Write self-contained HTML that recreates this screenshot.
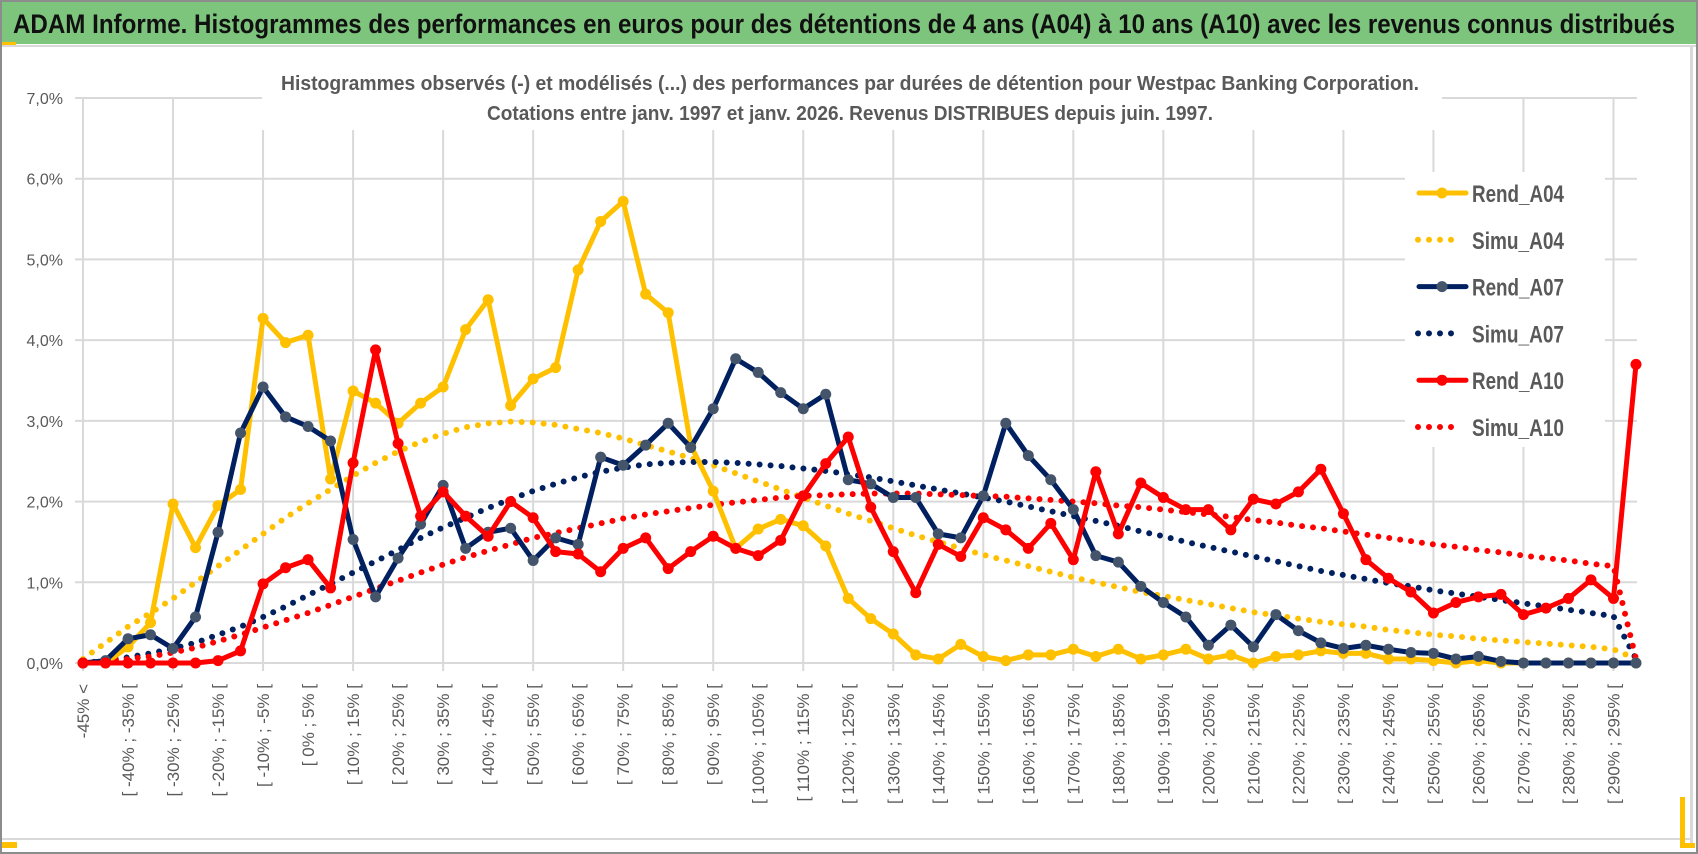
<!DOCTYPE html>
<html><head><meta charset="utf-8"><style>
html,body{margin:0;padding:0;background:#fff;}
svg{display:block;font-family:"Liberation Sans",sans-serif;}
</style></head><body>
<svg id="c" width="1698" height="854" viewBox="0 0 1698 854">
<rect x="0" y="0" width="1698" height="854" fill="#fff"/>
<rect x="1" y="1" width="1696" height="852" fill="none" stroke="#8c8c8c" stroke-width="2"/>
<rect x="2" y="2" width="1694" height="42" fill="#7dc57c"/>
<rect x="2" y="42" width="14" height="3" fill="#ffc000"/>
<text x="13" y="33" font-size="27" font-weight="bold" fill="#111" textLength="1662" lengthAdjust="spacingAndGlyphs">ADAM Informe. Histogrammes des performances en euros pour des détentions de 4 ans (A04) à 10 ans (A10) avec les revenus connus distribués</text>
<line x1="2" y1="46" x2="1696" y2="46" stroke="#d9d9d9" stroke-width="2"/>
<rect x="1690" y="46" width="3" height="800" fill="#d9d9d9"/>
<line x1="2" y1="839" x2="1690" y2="839" stroke="#d9d9d9" stroke-width="2"/>
<rect x="2" y="842" width="15" height="6" fill="#ffc000"/>
<rect x="1680" y="797" width="5" height="51" fill="#ffc000"/>
<rect x="1680" y="843" width="15" height="5" fill="#ffc000"/>
<g id="grid"></g>
<g id="axes"></g>
<rect x="262" y="66" width="1180" height="64" fill="#fff"/>
<text x="850" y="90" font-size="20" font-weight="bold" fill="#595959" text-anchor="middle" textLength="1138" lengthAdjust="spacingAndGlyphs">Histogrammes observés (-) et modélisés (...) des performances par durées de détention pour Westpac Banking Corporation.</text>
<text x="850" y="120" font-size="20" font-weight="bold" fill="#595959" text-anchor="middle" textLength="726" lengthAdjust="spacingAndGlyphs">Cotations entre janv. 1997 et janv. 2026. Revenus DISTRIBUES depuis juin. 1997.</text>
<g id="series"></g>
<g id="legend"></g>
</svg>
<script>
const categories = (function(){const a=["-45% <"];for(let k=1;k<70;k++){const lo=-50+5*k;a.push("[ "+lo+"% ; "+(lo+5)+"% [");}return a;})();
const yTicks = [0,1,2,3,4,5,6,7];
const yTickLabels = ["0,0%","1,0%","2,0%","3,0%","4,0%","5,0%","6,0%","7,0%"];
const seriesNames = ["Rend_A04","Simu_A04","Rend_A07","Simu_A07","Rend_A10","Simu_A10"];
const rendA04 = [0,0,0.2,0.5,1.97,1.43,1.95,2.15,4.27,3.97,4.06,2.28,3.37,3.22,2.97,3.22,3.42,4.13,4.5,3.19,3.52,3.66,4.87,5.47,5.72,4.57,4.34,2.7,2.13,1.42,1.66,1.78,1.7,1.45,0.8,0.55,0.36,0.1,0.05,0.23,0.08,0.03,0.1,0.1,0.17,0.08,0.17,0.05,0.1,0.17,0.05,0.1,0,0.08,0.1,0.15,0.12,0.12,0.05,0.05,0.03,0,0.03,0,0,0,0,0,0,0];
const simuA04 = [0.05,0.25,0.45,0.62,0.8,1.0,1.2,1.4,1.6,1.8,1.98,2.15,2.32,2.48,2.62,2.74,2.84,2.92,2.97,2.99,2.98,2.95,2.9,2.85,2.78,2.7,2.62,2.54,2.45,2.35,2.25,2.15,2.05,1.95,1.85,1.76,1.67,1.58,1.5,1.42,1.34,1.27,1.2,1.13,1.06,1.0,0.94,0.88,0.83,0.78,0.73,0.68,0.63,0.59,0.55,0.51,0.48,0.45,0.41,0.38,0.35,0.33,0.3,0.28,0.26,0.24,0.22,0.2,0.17,0.05];
const rendA07 = [0,0.03,0.3,0.35,0.18,0.57,1.62,2.85,3.42,3.05,2.93,2.75,1.53,0.82,1.3,1.72,2.2,1.42,1.62,1.67,1.27,1.55,1.47,2.55,2.45,2.7,2.97,2.67,3.15,3.77,3.6,3.35,3.15,3.33,2.27,2.22,2.05,2.05,1.6,1.55,2.07,2.97,2.57,2.27,1.9,1.33,1.25,0.95,0.75,0.57,0.22,0.47,0.2,0.6,0.4,0.25,0.18,0.22,0.17,0.13,0.12,0.05,0.08,0.02,0,0,0,0,0,0];
const simuA07 = [0.0,0.03,0.07,0.12,0.18,0.25,0.35,0.45,0.57,0.7,0.84,0.98,1.12,1.26,1.4,1.55,1.68,1.8,1.92,2.03,2.13,2.22,2.3,2.37,2.42,2.46,2.48,2.49,2.49,2.48,2.46,2.44,2.41,2.38,2.34,2.3,2.25,2.2,2.15,2.1,2.05,2.0,1.94,1.88,1.82,1.76,1.7,1.63,1.57,1.5,1.44,1.38,1.32,1.26,1.2,1.14,1.09,1.04,0.99,0.95,0.9,0.86,0.82,0.78,0.74,0.7,0.66,0.62,0.58,0.05];
const rendA10 = [0,0,0,0,0,0,0.03,0.15,0.98,1.18,1.28,0.93,2.48,3.88,2.72,1.82,2.12,1.82,1.57,2.0,1.8,1.38,1.35,1.13,1.42,1.55,1.17,1.38,1.57,1.42,1.33,1.52,2.07,2.47,2.8,1.93,1.38,0.87,1.47,1.32,1.8,1.65,1.42,1.73,1.28,2.37,1.6,2.23,2.05,1.9,1.9,1.65,2.03,1.97,2.12,2.4,1.85,1.28,1.05,0.88,0.62,0.75,0.82,0.85,0.6,0.68,0.8,1.03,0.8,3.7];
const simuA10 = [0.0,0.02,0.05,0.08,0.13,0.19,0.27,0.35,0.44,0.53,0.62,0.72,0.82,0.92,1.02,1.12,1.22,1.31,1.39,1.47,1.55,1.61,1.67,1.73,1.79,1.84,1.88,1.92,1.96,1.99,2.02,2.05,2.07,2.08,2.09,2.1,2.1,2.1,2.09,2.08,2.07,2.06,2.04,2.02,2.0,1.98,1.95,1.93,1.9,1.87,1.84,1.81,1.77,1.74,1.7,1.67,1.63,1.59,1.55,1.51,1.47,1.44,1.4,1.37,1.33,1.3,1.27,1.23,1.2,0.05];

const NS="http://www.w3.org/2000/svg";
const X0=83, X1=1636, Y0=663, Y7=98, PL=75, PR=1637;
function xs(i){return X0+(X1-X0)*i/(categories.length-1);}
function ys(v){return Y0-(Y0-Y7)*v/7;}
function mk(tag,attrs,parent){const e=document.createElementNS(NS,tag);for(const k in attrs)e.setAttribute(k,attrs[k]);parent.appendChild(e);return e;}
const grid=document.getElementById('grid'), axes=document.getElementById('axes'), ser=document.getElementById('series'), leg=document.getElementById('legend');
yTicks.forEach((t,j)=>{
  const l=mk('line',{x1:PL,x2:PR,y1:ys(t),y2:ys(t),stroke:'#d9d9d9','stroke-width':2},grid);
  
  
  const tx=mk('text',{x:63,y:ys(t)+6,'font-size':16,fill:'#595959','text-anchor':'end'},axes);
  tx.textContent=yTickLabels[j];
  
  
});
for(let i=0;i<categories.length;i+=4){
  const l=mk('line',{x1:xs(i),x2:xs(i),y1:Y7,y2:Y0+8,stroke:'#d9d9d9','stroke-width':2},grid);
  
  
}
categories.forEach((c,i)=>{
  if(i%2) return;
  const x=xs(i)+6, y=684;
  const tx=mk('text',{x:x,y:y,'font-size':17,fill:'#595959','text-anchor':'end',transform:`rotate(-90 ${x} ${y})`},axes);
  tx.textContent=c;
  
  
});
function dotted(vals,color,name){
  const p=mk('polyline',{points:vals.map((v,i)=>xs(i)+','+ys(v)).join(' '),fill:'none',stroke:color,'stroke-width':6,'stroke-linecap':'round','stroke-dasharray':'0 11'},ser);
  
  
}
function solid(vals,color,mcol,name){
  const g=mk('g',{},ser);
  
  
  mk('polyline',{points:vals.map((v,i)=>xs(i)+','+ys(v)).join(' '),fill:'none',stroke:color,'stroke-width':5,'stroke-linejoin':'round'},g);
  vals.forEach((v,i)=>{
    const c=mk('circle',{cx:xs(i),cy:ys(v),r:5.5,fill:mcol},g);
    
    
  });
}
dotted(simuA04,'#ffc000','simu-a04-line');
dotted(simuA07,'#002060','simu-a07-line');
dotted(simuA10,'#ff0000','simu-a10-line');
solid(rendA04,'#ffc000','#ffc000','rend-a04-line');
solid(rendA07,'#002060','#44546a','rend-a07-line');
solid(rendA10,'#ff0000','#ff0000','rend-a10-line');
// legend
mk('rect',{x:1405,y:172,width:200,height:275,fill:'#fff'},leg);
const legStyles=[['#ffc000','solid','#ffc000'],['#ffc000','dot'],['#002060','solid','#44546a'],['#002060','dot'],['#ff0000','solid','#ff0000'],['#ff0000','dot']];
seriesNames.forEach((n,j)=>{
  const y=193+j*46.8;
  const g=mk('g',{},leg);
  
  
  const st=legStyles[j];
  if(st[1]==='solid'){
    mk('line',{x1:1419,x2:1466,y1:y,y2:y,stroke:st[0],'stroke-width':5,'stroke-linecap':'round'},g);
    mk('circle',{cx:1442,cy:y,r:5.5,fill:st[2]},g);
  } else {
    mk('line',{x1:1418,x2:1460,y1:y,y2:y,stroke:st[0],'stroke-width':6,'stroke-linecap':'round','stroke-dasharray':'0 11'},g);
  }
  const t=mk('text',{x:1472,y:y+9,'font-size':24,'font-weight':'bold',fill:'#595959',textLength:92,lengthAdjust:'spacingAndGlyphs'},g);
  t.textContent=n;
});
</script>
</body></html>
